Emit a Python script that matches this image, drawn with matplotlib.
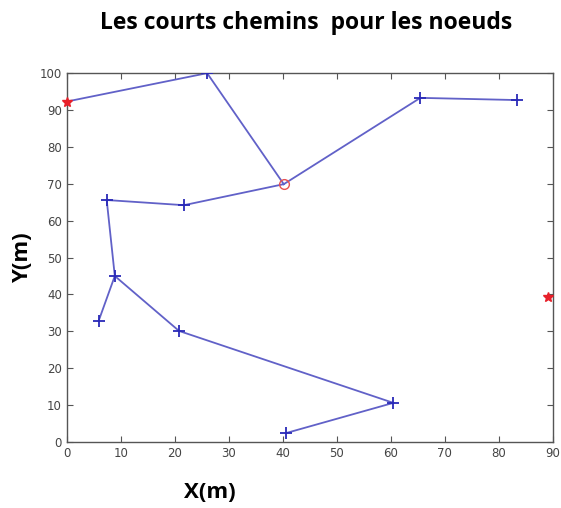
import matplotlib
matplotlib.use("Agg")
import matplotlib.pyplot as plt

# Node coordinates (m)
node_x = [0.0, 26.0, 40.2, 65.5, 83.5, 21.7, 7.4, 8.9, 5.9, 20.8, 60.5, 40.6, 89.1]
node_y = [92.3, 100.0, 69.9, 93.3, 92.7, 64.2, 65.6, 45.0, 32.8, 30.1, 10.6, 2.4, 39.3]
# Shortest-path edges (index pairs)
edges = [(0, 1), (1, 2), (2, 3), (3, 4), (2, 5), (5, 6), (6, 7), (7, 8), (7, 9), (9, 10), (10, 11)]
blue_nodes = [1, 3, 4, 5, 6, 7, 8, 9, 10, 11]
red_star_nodes = [0, 12]
red_circle_nodes = [2]

xticks = list(range(0, 91, 10))
yticks = list(range(0, 101, 10))

fig = plt.figure(figsize=(5.61, 5.08), dpi=100)
ax = fig.add_axes([0.119, 0.130, 0.866, 0.726])

for a, b in edges:
    ax.plot([node_x[a], node_x[b]], [node_y[a], node_y[b]], color='#6161c8', lw=1.3, zorder=2)

ax.plot([node_x[i] for i in blue_nodes], [node_y[i] for i in blue_nodes], ls='none',
        marker='+', color='#2a2ab8', ms=8, mew=1.3, zorder=3)
ax.plot([node_x[i] for i in red_star_nodes], [node_y[i] for i in red_star_nodes], ls='none',
        marker='*', color='#e8202a', ms=7, zorder=3, clip_on=False)
ax.plot([node_x[i] for i in red_circle_nodes], [node_y[i] for i in red_circle_nodes], ls='none',
        marker='o', mfc='none', mec='#e85050', ms=7, mew=1.0, zorder=3)

ax.set_xlim(0, 90)
ax.set_ylim(0, 100)
ax.set_xticks(xticks)
ax.set_yticks(yticks)
ax.tick_params(direction='in', top=True, right=True, length=4, labelsize=8.5,
               labelcolor='#444444', color='#555555')
for s in ax.spines.values():
    s.set_color('#555555')
    s.set_linewidth(1.0)

fig.text(0.546, 0.955, 'Les courts chemins  pour les noeuds', ha='center', va='center',
         fontsize=16.5, fontweight='bold', family=['Open Sans', 'DejaVu Sans'])
fig.text(0.374, 0.030, 'X(m)', ha='center', va='center', fontsize=16, fontweight='bold',
         family=['Open Sans', 'DejaVu Sans'])
fig.text(0.040, 0.492, 'Y(m)', ha='center', va='center', rotation=90, fontsize=16,
         fontweight='bold', family=['Open Sans', 'DejaVu Sans'])

fig.savefig('out.png', dpi=100, facecolor='white')
